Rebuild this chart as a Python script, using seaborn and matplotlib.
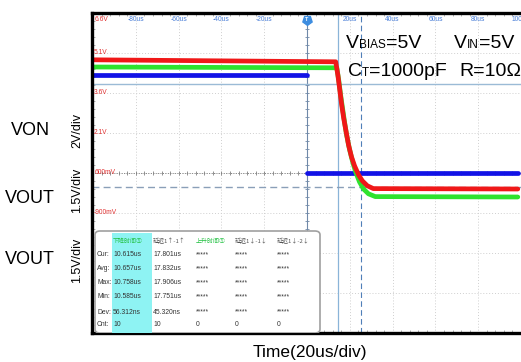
import matplotlib.pyplot as plt
import numpy as np
import pandas as pd
import seaborn as sns
from matplotlib.offsetbox import TextArea, HPacker, AnnotationBbox
from matplotlib.patches import FancyBboxPatch, Rectangle

# Traces: time in us, level in screen divisions (0 = bottom, 8 = top)
red_t = [-100.5, 13.4, 14.4, 15.3, 16.2, 17.1, 18.1, 19.4, 20.8, 22.2, 24.1, 25.9, 28.2, 31.0, 98.5]
red_v = [6.83, 6.78, 6.45, 6.08, 5.70, 5.38, 5.08, 4.70, 4.40, 4.18, 3.95, 3.80, 3.68, 3.61, 3.60]
green_t = [-100.5, 13.9, 14.8, 15.7, 16.7, 17.6, 18.5, 19.9, 21.3, 22.7, 24.5, 26.4, 28.7, 31.9, 98.5]
green_v = [6.65, 6.63, 6.33, 5.95, 5.58, 5.25, 4.95, 4.58, 4.28, 4.03, 3.78, 3.60, 3.48, 3.41, 3.40]
blue_pre_t = [-100.5, 0.0]
blue_pre_v = [6.45, 6.45]
blue_post_t = [0.0, 98.5]
blue_post_v = [4.0, 4.0]

# Cursors
cursor_t = [14.35, 25.0]
cursor_v = [6.22, 3.65]

# Screen labels
time_ticks = [-80, -60, -40, -20, 20, 40, 60, 80, 100]
time_labels = ["-80us", "-60us", "-40us", "-20us", "20us", "40us", "60us", "80us", "100us"]
volt_divs = [8, 7, 6, 5, 4, 3]
volt_labels = ["6.6V", "5.1V", "3.6V", "2.1V", "600mV", "-900mV"]

# Measurement table
row_names = ["Cur:", "Avg:", "Max:", "Min:", "Dev:", "Cnt:"]
col_heads = ["下降时间①", "延迟1↑-1↑", "上升时间①", "延迟1↓-1↓", "延迟1↓-2↓"]
col_fall = ["10.615us", "10.657us", "10.758us", "10.585us", "56.312ns", "10"]
col_delay = ["17.801us", "17.832us", "17.906us", "17.751us", "45.320ns", "10"]
col_rise = ["*****", "*****", "*****", "*****", "*****", "0"]
col_d2 = ["*****", "*****", "*****", "*****", "*****", "0"]
col_d3 = ["*****", "*****", "*****", "*****", "*****", "0"]

sns.set_style("white")
plt.rcParams["font.family"] = ["Liberation Sans", "DejaVu Sans"]
plt.rcParams["text.color"] = "black"

df = pd.concat([
    pd.DataFrame({"t": blue_pre_t, "v": blue_pre_v, "ch": "blue_pre"}),
    pd.DataFrame({"t": blue_post_t, "v": blue_post_v, "ch": "blue_post"}),
    pd.DataFrame({"t": green_t, "v": green_v, "ch": "green"}),
    pd.DataFrame({"t": red_t, "v": red_v, "ch": "red"}),
])
pal = {"blue_pre": "#1212e6", "blue_post": "#1212e6", "green": "#2ee22e", "red": "#f01818"}

fig = plt.figure(figsize=(5.21, 3.62), dpi=100)
ax = fig.add_axes([92 / 521, 29 / 362, 429 / 521, 320 / 362])

# grid
ax.set_xlim(-100.5, 98.1)
ax.set_ylim(0, 8)
ax.set_xticks(np.arange(-100, 101, 20))
ax.set_yticks(np.arange(0, 9, 1))
ax.set_xticks(np.arange(-100, 101, 4), minor=True)
ax.set_yticks(np.arange(0, 8.01, 0.2), minor=True)
ax.grid(which="major", color="#cfcfcf", lw=0.7, ls=(0, (1, 2)))
ax.tick_params(which="major", length=0, labelbottom=False, labelleft=False)
ax.tick_params(which="minor", direction="in", length=2.5, color="#a0a0a0",
               top=True, bottom=True, left=True, width=0.6)
for side in ["left", "top", "bottom"]:
    ax.spines[side].set_color("black")
    ax.spines[side].set_linewidth(2.4)
ax.spines["right"].set_visible(False)

# centre axes with small ticks
ax.axhline(4, color="#808080", lw=0.7, ls=(0, (1, 1.5)), zorder=1)
mt = np.arange(-100, 100, 4)
ax.plot(mt, np.full(len(mt), 4), ls="none", marker="|", ms=3.5, color="#808080", mew=0.6)
ax.axvline(0, color="#7089a8", lw=0.8, zorder=1)
my = np.arange(0, 8, 0.2)
ax.plot(np.zeros(len(my)), my, ls="none", marker="_", ms=3.5, color="#7089a8", mew=0.6)

# cursors
ax.axvline(cursor_t[0], color="#8ab4d8", lw=0.9, zorder=1)
ax.axvline(cursor_t[1], color="#4f7fb8", lw=0.8, ls=(0, (5, 3)), zorder=1)
ax.axhline(cursor_v[0], color="#9bbbd6", lw=1.0, zorder=1)
ax.axhline(cursor_v[1], color="#8a9fb8", lw=1.0, ls=(0, (5, 3)), zorder=1)

# traces
sns.lineplot(data=df, x="t", y="v", hue="ch", hue_order=["blue_pre", "blue_post", "green", "red"],
             palette=pal, estimator=None, sort=False, legend=False, lw=3.4,
             solid_joinstyle="round", ax=ax)
ax.set_xlabel("")
ax.set_ylabel("")

# trigger marker
ax.plot([0], [7.82], marker=(5, 0, 180), ms=7, color="#3d8de0", zorder=5)
ax.text(0, 7.84, "T", color="white", fontsize=4, ha="center", va="center", zorder=6, weight="bold")

for t, lab in zip(time_ticks, time_labels):
    ax.text(t, 7.83, lab, color="#4a7fd8", fontsize=4.8, ha="center", va="center")
for d, lab in zip(volt_divs, volt_labels):
    ax.text(-99.5, 7.83 if d == 8 else d, lab, color="#e03030", fontsize=4.8, ha="left", va="center")


def axp(px, py):
    return (px - 92) / 429, (333 - py) / 320


# measurement table
x0, y0 = axp(95, 231)
box = FancyBboxPatch((x0, 0.0), axp(320, 0)[0] - x0, y0, boxstyle="round,pad=0,rounding_size=0.012",
                     transform=ax.transAxes, facecolor="white", edgecolor="#a0a0a0", lw=1.2, zorder=7)
ax.add_patch(box)
cx, cy = axp(112, 233)
ax.add_patch(Rectangle((cx, 0.0), 40 / 429, cy, transform=ax.transAxes, facecolor="#8ef3f3",
                       edgecolor="none", zorder=8))

cjk = ["Noto Sans CJK SC", "DejaVu Sans"]
col_x = [113, 153, 196, 235, 277]
head_colors = ["#20c040", "#555555", "#20c040", "#555555", "#555555"]
for x, h, c in zip(col_x, col_heads, head_colors):
    hx, hy = axp(x, 241)
    ax.text(hx, hy, h, fontsize=4.3, color=c, family=cjk, ha="left", va="center",
            transform=ax.transAxes, zorder=9)
row_y = [255, 269, 283, 297, 312, 325]
cols = [col_fall, col_delay, col_rise, col_d2, col_d3]
for i, (y, name) in enumerate(zip(row_y, row_names)):
    nx, ny = axp(97, y)
    ax.text(nx, ny, name, fontsize=4.9, color="#333333", ha="left", va="center",
            transform=ax.transAxes, zorder=9)
    for x, col in zip(col_x, cols):
        vx, vy = axp(x, y)
        ax.text(vx, vy, col[i], fontsize=4.9, color="#333333", ha="left", va="center",
                transform=ax.transAxes, zorder=9)


# condition text
def rich(parts):
    kids = [TextArea(s, textprops=dict(fontsize=fs, color="black", family="Liberation Sans"))
            for s, fs in parts]
    return HPacker(children=kids, align="baseline", pad=0, sep=0)


for parts, (px, py) in [
    ([("V", 14), ("BIAS", 8.5), ("=5V", 14)], (346, 44)),
    ([("V", 14), ("IN", 8.5), ("=5V", 14)], (454, 44)),
    ([("C", 14), ("T", 8.5), ("=1000pF", 14)], (348, 71)),
    ([("R=10Ω", 14)], (459, 71)),
]:
    ab = AnnotationBbox(rich(parts), (px, 362 - py), xycoords="figure pixels",
                        box_alignment=(0, 0.5), frameon=False, pad=0, zorder=10)
    fig.add_artist(ab)

# outer labels
fig.text(30 / 521, 1 - 130 / 362, "VON", fontsize=13, ha="center", va="center")
fig.text(30 / 521, 1 - 198 / 362, "VOUT", fontsize=13, ha="center", va="center")
fig.text(30 / 521, 1 - 259 / 362, "VOUT", fontsize=13, ha="center", va="center")
fig.text(77 / 521, 1 - 131 / 362, "2V/div", fontsize=9, rotation=90, ha="center", va="center")
fig.text(77 / 521, 1 - 190 / 362, "1.5V/div", fontsize=9, rotation=90, ha="center", va="center")
fig.text(77 / 521, 1 - 260 / 362, "1.5V/div", fontsize=9, rotation=90, ha="center", va="center")
fig.text(310 / 521, 1 - 352 / 362, "Time(20us/div)", fontsize=12.5, ha="center", va="center")

fig.savefig("out.png", dpi=100)
